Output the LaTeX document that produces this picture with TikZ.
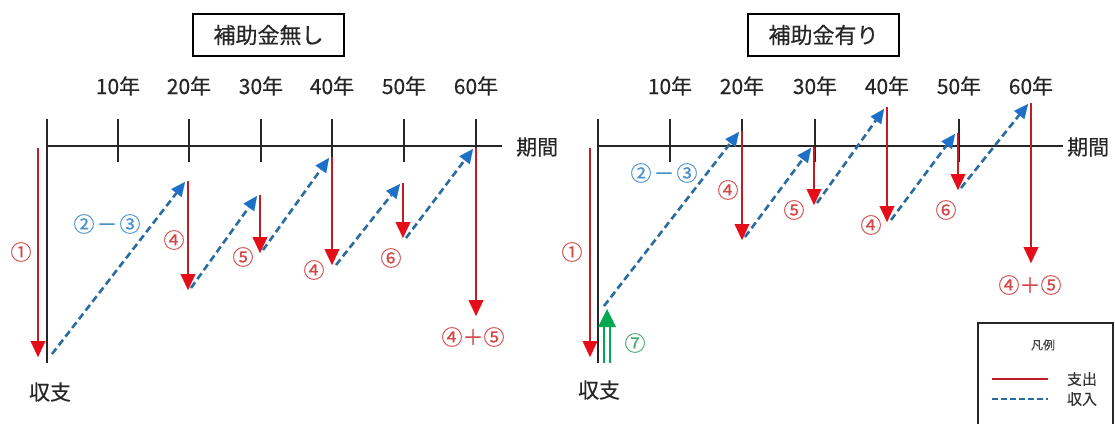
\documentclass[tikz,border=0pt]{standalone}
\usepackage{fontspec}
\setmainfont{Noto Sans CJK JP}[FakeBold=0.35]
\usetikzlibrary{arrows.meta}
\definecolor{outred}{RGB}{192,28,38}
\definecolor{headred}{RGB}{228,14,24}
\definecolor{inblue}{RGB}{42,108,160}
\definecolor{headblue}{RGB}{28,112,200}
\definecolor{lblred}{RGB}{212,72,72}
\definecolor{lblblue}{RGB}{72,146,206}
\definecolor{grn}{RGB}{0,168,84}
\definecolor{lblgrn}{RGB}{70,170,110}
\tikzset{
  axisline/.style={line width=1.3pt, black!85},
  outarrow/.style={outred, line width=2.6pt, -{Triangle[width=15pt,length=16pt,color=headred,line width=0.1pt]}},
  inarrow/.style={inblue, line width=2.6pt, dash pattern=on 7pt off 4pt, -{Triangle[width=13pt,length=14pt,color=headblue,line width=0.1pt]}},
  lbl/.style={font=\fontsize{21}{24}\selectfont, inner sep=0pt, text=black!85},
  rlbl/.style={lbl, text=lblred},
  blbl/.style={lbl, text=lblblue},
  glbl/.style={lbl, text=lblgrn},
  titlebox/.style={draw, line width=1.2pt, minimum width=151pt, minimum height=42pt, inner sep=0pt, font=\fontsize{22}{26}\selectfont, text=black!85},
  smalllbl/.style={inner sep=0pt, font=\fontsize{15}{18}\selectfont, text=black!80},
}
\begin{document}
\begin{tikzpicture}[x=1pt,y=-1pt]
\useasboundingbox (0,0) rectangle (1115,423);
\clip (0,0) rectangle (1115,423);
\fill[white] (0,0) rectangle (1115,423);

%================ LEFT PANEL =================
\node[titlebox] (LT) at (268.5,35) {補助金無し};
% axes
\coordinate (LV0) at (47,119);
\coordinate (LV1) at (47,363);
\coordinate (LH0) at (47,146);
\coordinate (LH1) at (502,146);
\draw[axisline] (LV0) -- (LV1);
\draw[axisline] (LH0) -- (LH1);
\foreach \x/\yr [count=\i] in {118/10,189/20,261/30,332/40,404/50,476/60}{
  \coordinate (LTa\i) at (\x,119);
  \coordinate (LTb\i) at (\x,162);
  \draw[axisline] (LTa\i) -- (LTb\i);
  \node[lbl] (LY\i) at (\x,86) {\yr{}年};
}
\node[lbl, anchor=west] (LP) at (516,147) {期間};
\node[lbl] (LS) at (50,392) {収支};

% outflows (red)
\coordinate (Lr1a) at (38,148);  \coordinate (Lr1b) at (38,357);
\coordinate (Lr2a) at (188,181); \coordinate (Lr2b) at (188,290);
\coordinate (Lr3a) at (260,195); \coordinate (Lr3b) at (260,253);
\coordinate (Lr4a) at (332,157); \coordinate (Lr4b) at (332,265);
\coordinate (Lr5a) at (403,183); \coordinate (Lr5b) at (403,238);
\coordinate (Lr6a) at (476,148); \coordinate (Lr6b) at (476,316);
\foreach \i in {1,...,6}{ \draw[outarrow] (Lr\i a) -- (Lr\i b); }

% inflows (blue dashed)
\coordinate (Lb1a) at (52,354);  \coordinate (Lb1b) at (185,182);
\coordinate (Lb2a) at (191,288); \coordinate (Lb2b) at (257,196);
\coordinate (Lb3a) at (263,250); \coordinate (Lb3b) at (329,158);
\coordinate (Lb4a) at (336,265); \coordinate (Lb4b) at (400,184);
\coordinate (Lb5a) at (406,238); \coordinate (Lb5b) at (473,149);
\foreach \i in {1,...,5}{ \draw[inarrow] (Lb\i a) -- (Lb\i b); }

% labels
\node[rlbl] (Ll1) at (21,252) {①};
\node[blbl] (Ll23) at (107,224) {②\hspace{2pt}－\hspace{2pt}③};
\node[rlbl] (Ll4a) at (174,240) {④};
\node[rlbl] (Ll5) at (243,257) {⑤};
\node[rlbl] (Ll4b) at (314,270) {④};
\node[rlbl] (Ll6) at (391,258) {⑥};
\node[rlbl] (Ll45) at (473,337) {④＋⑤};

%================ RIGHT PANEL =================
\node[titlebox] (RT) at (823.5,35) {補助金有り};
\coordinate (RV0) at (598,119);
\coordinate (RV1) at (598,363);
\coordinate (RH0) at (598,146);
\coordinate (RH1) at (1063,146);
\draw[axisline] (RV0) -- (RV1);
\draw[axisline] (RH0) -- (RH1);
\foreach \x/\yr [count=\i] in {670/10,742/20,815/30,887/40,959/50,1031/60}{
  \coordinate (RTa\i) at (\x,119);
  \coordinate (RTb\i) at (\x,162);
  \draw[axisline] (RTa\i) -- (RTb\i);
  \node[lbl] (RY\i) at (\x,86) {\yr{}年};
}
\node[lbl, anchor=west] (RP) at (1067,147) {期間};
\node[lbl] (RS) at (599,390) {収支};

% outflows (red)
\coordinate (Rr1a) at (590,148);  \coordinate (Rr1b) at (590,357);
\coordinate (Rr2a) at (742,131);  \coordinate (Rr2b) at (742,240);
\coordinate (Rr3a) at (814,147);  \coordinate (Rr3b) at (814,205);
\coordinate (Rr4a) at (887,107);  \coordinate (Rr4b) at (887,222);
\coordinate (Rr5a) at (958,133);  \coordinate (Rr5b) at (958,190);
\coordinate (Rr6a) at (1031,103); \coordinate (Rr6b) at (1031,263);
\foreach \i in {1,...,6}{ \draw[outarrow] (Rr\i a) -- (Rr\i b); }

% inflows (blue dashed)
\coordinate (Rb1a) at (604,306);  \coordinate (Rb1b) at (739,132);
\coordinate (Rb2a) at (745,237);  \coordinate (Rb2b) at (811,148);
\coordinate (Rb3a) at (817,203);  \coordinate (Rb3b) at (884,109);
\coordinate (Rb4a) at (891,220);  \coordinate (Rb4b) at (955,134);
\coordinate (Rb5a) at (961,188);  \coordinate (Rb5b) at (1028,104);
\foreach \i in {1,...,5}{ \draw[inarrow] (Rb\i a) -- (Rb\i b); }

% subsidy (green double arrow)
\coordinate (G1) at (607,309);
\coordinate (Ga0) at (604,363); \coordinate (Ga1) at (604,324);
\coordinate (Gb0) at (610,363); \coordinate (Gb1) at (610,324);
\coordinate (Gl) at (598,327); \coordinate (Gr) at (616,327);
\draw[grn, line width=1.8pt] (Ga0) -- (Ga1);
\draw[grn, line width=1.8pt] (Gb0) -- (Gb1);
\fill[grn] (G1) -- (Gl) -- (Gr) -- cycle;

% labels
\node[rlbl] (Rl1) at (572,252) {①};
\node[blbl] (Rl23) at (664,173) {②\hspace{2pt}－\hspace{2pt}③};
\node[rlbl] (Rl4a) at (728,190) {④};
\node[rlbl] (Rl5) at (794,210) {⑤};
\node[rlbl] (Rl4b) at (871,225) {④};
\node[rlbl] (Rl6) at (946,210) {⑥};
\node[rlbl] (Rl45) at (1030,285) {④＋⑤};
\node[glbl] (Rl7) at (635,343) {⑦};

%================ LEGEND =================
\coordinate (Lg0) at (978,323);
\coordinate (Lg1) at (1113,440);
\draw[line width=1.4pt, black!85] (Lg0) rectangle (Lg1);
\node[inner sep=0pt, font=\fontsize{12}{14}\selectfont, text=black!75] (LgT) at (1043,345) {凡例};
\coordinate (Lgr0) at (992,379); \coordinate (Lgr1) at (1048,379);
\draw[outred, line width=2.6pt] (Lgr0) -- (Lgr1);
\node[smalllbl] (LgR) at (1082,379) {支出};
\coordinate (Lgb0) at (992,399); \coordinate (Lgb1) at (1048,399);
\draw[inblue, line width=2.6pt, dash pattern=on 6pt off 3pt] (Lgb0) -- (Lgb1);
\node[smalllbl] (LgB) at (1082,399) {収入};
\end{tikzpicture}
\end{document}
